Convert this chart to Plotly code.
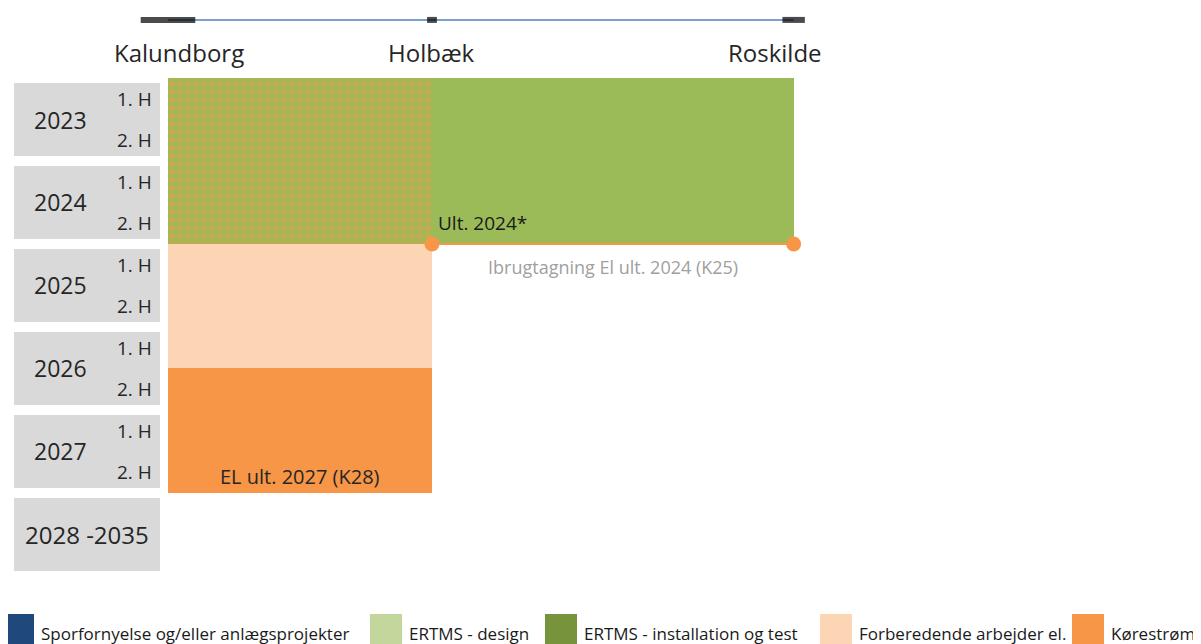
import plotly.graph_objects as go

# stations along the line (schematic position)
stations = ["Kalundborg", "Holbæk", "Roskilde"]
station_pos = [0, 100, 237]

# periods, counted in half-years from start of 2023
years = ["2023", "2024", "2025", "2026", "2027", "2028 -2035"]
halves = ["1. H", "2. H"]

# work blocks: from station, to station, from half-year, to half-year
block_from = ["Kalundborg", "Kalundborg", "Kalundborg", "Kalundborg"]
block_to = ["Roskilde", "Holbæk", "Holbæk", "Holbæk"]
block_start = [0, 0, 4, 7]
block_end = [4, 4, 7, 10]
block_color = ["#9bbb59", "hatch", "#fcd5b5", "#f79646"]

# milestone
milestone_from = "Holbæk"
milestone_to = "Roskilde"
milestone_half = 4
milestone_label = "Ult. 2024*"
milestone_note = "Ibrugtagning El ult. 2024 (K25)"
end_label = "EL ult. 2027 (K28)"
end_half = 10

legend_labels = ["Sporfornyelse og/eller anlægsprojekter", "ERTMS - design",
                 "ERTMS - installation og test", "Forberedende arbejder el.", "Kørestrøm"]
legend_colors = ["#1f497d", "#c3d69b", "#77933c", "#fcd5b5", "#f79646"]

pos = dict(zip(stations, station_pos))
FONT = "Open Sans"
OFF = 8  # page body margin
W, H = 1201 - OFF, 644 - OFF
box_left, box_right, gap = -58.3, -3.0, 0.26
line_y = -1.4

fig = go.Figure()

# grey period boxes
fig.add_trace(go.Bar(
    orientation="h",
    y=[2 * i + 1 for i in range(len(years))],
    x=[box_right - box_left] * len(years),
    base=[box_left] * len(years),
    width=[2 - gap] * len(years),
    marker=dict(color="#d9d9d9", line=dict(width=0)),
    showlegend=False, hoverinfo="skip",
))

for f, t, s, e, c in zip(block_from, block_to, block_start, block_end, block_color):
    if c == "hatch":
        marker = dict(color="#9bbb59", line=dict(width=0),
                      pattern=dict(shape="+", fgcolor="#f79646", bgcolor="#9bbb59",
                                   size=8, solidity=0.5))
    else:
        marker = dict(color=c, line=dict(width=0))
    fig.add_trace(go.Bar(
        orientation="h", y=[(s + e) / 2], width=[e - s],
        base=[pos[f]], x=[pos[t] - pos[f]],
        marker=marker, showlegend=False, hoverinfo="skip",
    ))

# milestone line
fig.add_trace(go.Scatter(
    x=[pos[milestone_from], pos[milestone_to]], y=[milestone_half] * 2,
    mode="lines+markers", line=dict(color="#f79646", width=2),
    marker=dict(color="#f79646", size=15), showlegend=False, hoverinfo="skip",
))

# top schematic line
fig.add_trace(go.Scatter(
    x=station_pos, y=[line_y] * len(station_pos), mode="lines",
    line=dict(color="#4f81bd", width=1.5), showlegend=False, hoverinfo="skip",
))
fig.add_trace(go.Scatter(
    x=station_pos, y=[line_y] * len(station_pos), mode="markers",
    marker=dict(symbol="line-ew", size=[39, 7, 16], color="black",
                line=dict(color="#000000", width=6)),
    showlegend=False, hoverinfo="skip",
))

ann = []
label_shift = [11, 0, -19]
for s, p, sh in zip(stations, station_pos, label_shift):
    ann.append(dict(x=p, y=line_y, text=s, showarrow=False, xshift=sh, yshift=-33,
                    font=dict(size=24, color="#262626")))

for i, yr in enumerate(years):
    if i < len(years) - 1:
        ann.append(dict(x=box_left, y=2 * i + 1, text=yr, showarrow=False, xanchor="center",
                        xshift=46, font=dict(size=23, color="#262626")))
        for j, hf in enumerate(halves):
            ann.append(dict(x=box_right, y=2 * i + 0.5 + j, text=hf, showarrow=False,
                            xanchor="right", xshift=-6, font=dict(size=19, color="#262626")))
    else:
        ann.append(dict(x=(box_left + box_right) / 2, y=2 * i + 1, text=yr, showarrow=False,
                        font=dict(size=24, color="#262626")))

ann.append(dict(x=pos[milestone_from], y=milestone_half, text=milestone_label, showarrow=False,
                xanchor="left", xshift=4, yshift=21, font=dict(size=19, color="#1a1a1a")))
ann.append(dict(x=(pos[milestone_from] + pos[milestone_to]) / 2, y=milestone_half,
                text=milestone_note, showarrow=False, yshift=-23,
                font=dict(size=18, color="#a0a0a0")))
ann.append(dict(x=(pos["Kalundborg"] + pos["Holbæk"]) / 2, y=end_half, text=end_label,
                showarrow=False, yshift=16, font=dict(size=20, color="#262626")))

# legend drawn by hand at the bottom (page pixel positions)
legend_x = [2, 370, 545, 820, 1072]
shapes = []
for lx, lab, col in zip(legend_x, legend_labels, legend_colors):
    shapes.append(dict(type="rect", xref="paper", yref="paper",
                       x0=(lx - OFF) / W, x1=(lx + 32 - OFF) / W,
                       y0=1 - (614 - OFF) / H, y1=-0.02,
                       fillcolor=col, line=dict(width=0)))
    ann.append(dict(xref="paper", yref="paper", x=(lx + 37 - OFF) / W, y=1 - (633 - OFF) / H,
                    text=lab, showarrow=False, xanchor="left", yanchor="middle",
                    font=dict(size=17, color="#1a1a1a")))

fig.update_layout(
    width=W, height=H, autosize=False,
    margin=dict(l=0, r=0, t=0, b=0),
    paper_bgcolor="white", plot_bgcolor="white",
    barmode="overlay", bargap=0,
    font=dict(family=FONT),
    xaxis=dict(range=[-60.6, 391.3], visible=False, fixedrange=True),
    yaxis=dict(range=[13.64, -1.687], visible=False, fixedrange=True),
    annotations=ann, shapes=shapes,
)

fig.write_html("out.html")
